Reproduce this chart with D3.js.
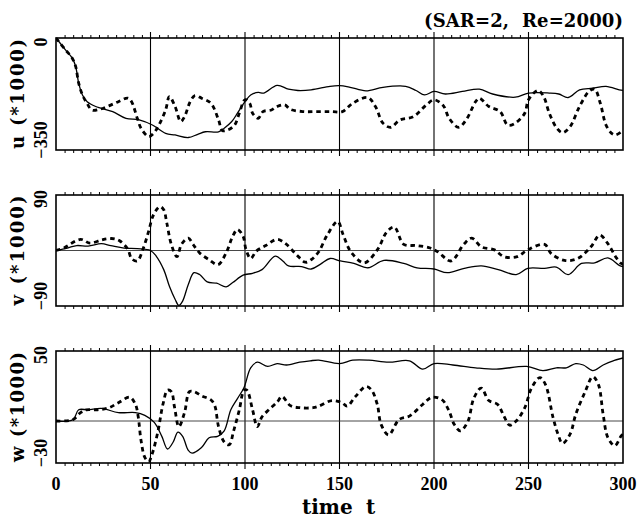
<!DOCTYPE html>
<html><head><meta charset="utf-8">
<script src="https://cdn.jsdelivr.net/npm/d3@7"></script>
<style>body{margin:0;background:#fff}svg{display:block}</style>
</head><body>
<svg id="chart" width="638" height="520"></svg>
<script>
// ---------- data ----------
const titleText = "(SAR=2,  Re=2000)";
const xLabelWords = ["time", "t"];
const timeTicks = [0, 50, 100, 150, 200, 250, 300];
const panelNames = ["u (*1000)", "v (*1000)", "w (*1000)"];
const uDomain = [-350, 0];
const vDomain = [-90, 90];
const wDomain = [-30, 50];
const uTickLabels = ["0", "−350"];
const vTickLabels = ["90", "−90"];
const wTickLabels = ["50", "−30"];

const uSolid = [[0,0],[5,-37],[8.6,-63],[10.4,-89],[12,-141],[14,-178],[16.5,-199],[21,-214],[30,-230],[37,-251],[44,-256],[51,-272],[58,-298],[63,-303],[70,-311],[75,-301],[79,-293],[86,-293],[89,-282],[93,-261],[96,-235],[100,-199],[103,-178],[107,-170],[110,-172],[117,-148],[123,-160],[128,-164],[135,-162],[145,-151],[150,-149],[155.6,-154],[164,-165],[173,-154],[185,-151],[190.5,-164],[195,-178],[200,-167],[206,-175],[215,-167],[224,-160],[231,-175],[243,-185],[250,-172],[261,-172],[266,-175],[271,-186],[277,-162],[284,-157],[291,-151],[298,-162],[300,-164]];
const uDashed = [[0,0],[5,-37],[8.6,-63],[10.4,-89],[12,-141],[14,-178],[16.5,-205],[19,-225],[23,-223],[28,-212],[33,-199],[38,-188],[40,-199],[43,-251],[45,-282],[49,-308],[51.6,-298],[54,-277],[58,-225],[60,-183],[63,-214],[66,-261],[68,-246],[71,-199],[73.5,-180],[77,-188],[82,-204],[86,-256],[88,-289],[91,-287],[94.5,-272],[97,-235],[100,-193],[102.5,-204],[104,-235],[107,-251],[109.5,-230],[114,-225],[117,-214],[121,-209],[124,-223],[131,-230],[138,-230],[146,-230],[151.5,-230],[157,-204],[165,-186],[169,-214],[173,-266],[177,-279],[182,-256],[189,-246],[196,-209],[200,-193],[205,-212],[208,-251],[213,-279],[217,-256],[222,-199],[224,-188],[229,-214],[235,-230],[239,-272],[243,-266],[248,-235],[250,-193],[255,-164],[258,-183],[261,-235],[265,-282],[268,-296],[272,-277],[277,-214],[282,-167],[285,-160],[288,-204],[291,-272],[294,-298],[296,-303],[300,-289]];

const vSolid = [[0,0],[6,4],[11,8],[17,7],[24,11],[29,8],[36,4],[43,3],[50,0],[53,-9],[57,-31],[60,-58],[63,-79],[65,-89],[67,-82],[70,-55],[73,-36],[76,-39],[80,-51],[85,-53],[90,-59],[93.5,-52],[99,-40],[104,-37],[109,-31],[116,-9],[120,-17],[123,-25],[130,-26],[135,-30],[140,-22],[145,-13],[150.5,-17],[157.6,-21],[165,-28],[173.5,-16],[184,-21],[191,-28],[200,-30],[207,-36],[216,-29],[225,-25],[234,-31],[243.5,-39],[249.6,-29],[258.5,-29],[264.7,-27],[271,-39],[278,-21],[285,-20],[292,-12],[298,-24],[300,-26]];
const vDashed = [[0,0],[4,4],[13,18],[18,12],[24,17],[27,19],[31,19],[34,15],[38,2],[40,-13],[43,-17],[46,2],[49,31],[51.6,58],[55,71],[57,66],[58.6,45],[61,10],[64,-10],[66.4,10],[70,20],[72.5,10],[76,-4],[81,-15],[85.7,-23],[90,-4],[93.5,23],[96,34],[99,23],[100.5,2],[103,-13],[106,-1],[111,8],[117,18],[121.5,11],[127,-6],[132,-19],[135,-15],[139,-2],[143.5,25],[149,47],[152,25],[156,-2],[163,-20],[170,1],[175,30],[179,38],[184,10],[191,8],[198,4],[202,-2],[209,-17],[216,11],[220,20],[225,6],[232,1],[237,-10],[244,-10],[249.6,1],[258.5,10],[262,-5],[269,-16],[276,-13],[283,6],[287.7,25],[292,11],[296.5,-12],[299,-21],[300,-22]];

const wSolid = [[0,0],[9,1],[12,8],[17,8],[24,9],[33,6],[42,6],[47,4],[52,-1],[56,-11],[59,-20],[62,-15],[64.5,-8],[67,-11],[70,-21],[72,-23],[77,-19],[81,-12],[85.5,-11],[89,-7],[92.5,8],[96,16],[99.5,24],[103,38],[106.5,42],[112,39],[117,41],[122,40],[129,42],[134.5,43],[139,43.5],[150,41],[157,43.5],[165.5,43.5],[176,42],[187,43],[194,37],[200,41],[210,40],[222,38],[233,37],[249,39],[257.6,36],[264.7,38],[270,38],[275,41],[279,40],[284,36],[289.5,40],[294.8,43],[300,45]];
const wDashed = [[0,0],[9,1],[13,6],[16,8],[22,8],[28,9.5],[33,13],[39,17],[42,12],[43.5,3],[45,-14],[47,-26],[49,-29],[51,-23],[54,-7],[56.6,12],[59,22],[61,21],[62.7,10],[65,-4],[68,6],[70.6,21],[73,21],[77,18],[82,15],[84,11],[86,-4],[89,-15],[91.6,-17],[94,-7],[97,8],[99.5,22],[101,22],[104,8],[106.5,-4],[109,3],[112.6,8],[117,13.5],[119.6,17.5],[124,11],[129,9.5],[136,9.5],[139,10.6],[146,14.6],[151.4,13],[154,10.6],[158.5,17.6],[164,24.7],[167,22],[170,11.8],[172,-2.4],[176,-10],[181.5,1],[187,3.5],[194,11.8],[199,17],[204.4,15],[208,7],[210.7,-2.4],[214,-7],[218,0],[221,16],[225,23.5],[229,14.6],[233.7,11.8],[237,3.5],[240,-3],[243.5,0],[248,9.4],[251.6,23.5],[256,31],[259,26],[263,2.4],[265.6,-9.4],[268,-16],[272,-9.4],[275,4.7],[280,21],[284,31.7],[287,26],[289.5,4.7],[292,-11.8],[295.7,-17.6],[299,-10.6],[300,-9.4]];

// ---------- layout ----------
const svg = d3.select("#chart");
const left = 56, right = 623;
const x = d3.scaleLinear().domain([0, 300]).range([left, right]);
const NUMFONT = "'Liberation Serif', 'Times New Roman', serif";
const TXTFONT = "'DejaVu Serif', serif";

const panels = [
  {name: panelNames[0], domain: uDomain, top: 38, bottom: 150, solid: uSolid, dashed: uDashed, ticks: uTickLabels, zero: false},
  {name: panelNames[1], domain: vDomain, top: 195, bottom: 306, solid: vSolid, dashed: vDashed, ticks: vTickLabels, zero: true},
  {name: panelNames[2], domain: wDomain, top: 351, bottom: 463, solid: wSolid, dashed: wDashed, ticks: wTickLabels, zero: true}
];

const minorTicks = [];
for (let s = 0; s < 300; s += 50) {
  for (let k = 1; k <= 10; k++) minorTicks.push(s + k * 50 / 11);
}

panels.forEach((p, i) => {
  const y = d3.scaleLinear().domain(p.domain).range([p.bottom, p.top]);
  const g = svg.append("g");
  const clipId = "clip" + i;
  svg.append("clipPath").attr("id", clipId).append("rect")
    .attr("x", left).attr("y", p.top - 1).attr("width", right - left).attr("height", p.bottom - p.top + 2);

  g.append("g").call(d3.axisTop(x).tickValues(minorTicks).tickSize(3).tickFormat(""))
    .attr("transform", `translate(0,${p.top})`)
    .call(a => a.select(".domain").remove())
    .selectAll("line").attr("stroke", "#000").attr("stroke-width", 1);
  g.append("g").call(d3.axisBottom(x).tickValues(minorTicks).tickSize(3).tickFormat(""))
    .attr("transform", `translate(0,${p.bottom})`)
    .call(a => a.select(".domain").remove())
    .selectAll("line").attr("stroke", "#000").attr("stroke-width", 1);

  g.selectAll(".grid").data(timeTicks.slice(1, -1)).enter().append("line")
    .attr("x1", d => x(d)).attr("x2", d => x(d))
    .attr("y1", p.top - 6).attr("y2", p.bottom + 6)
    .attr("stroke", "#000").attr("stroke-width", 1.1);

  if (p.zero) {
    g.append("line").attr("x1", left).attr("x2", right)
      .attr("y1", y(0)).attr("y2", y(0))
      .attr("stroke", "#333").attr("stroke-width", 0.9);
  }

  g.append("rect").attr("x", left).attr("y", p.top)
    .attr("width", right - left).attr("height", p.bottom - p.top)
    .attr("fill", "none").attr("stroke", "#000").attr("stroke-width", 1.6);

  const line = d3.line().x(d => x(d[0])).y(d => y(d[1])).curve(d3.curveCatmullRom.alpha(0.5));
  g.append("path").datum(p.solid).attr("d", line)
    .attr("clip-path", `url(#${clipId})`)
    .attr("fill", "none").attr("stroke", "#000").attr("stroke-width", 1.3);
  g.append("path").datum(p.dashed).attr("d", line)
    .attr("clip-path", `url(#${clipId})`)
    .attr("fill", "none").attr("stroke", "#000").attr("stroke-width", 2.8)
    .attr("stroke-dasharray", "4.5,3.8");

  const tickPos = [[p.domain[1], 4], [p.domain[0], -10]];
  tickPos.forEach((tp, j) => {
    const yy = y(tp[0]) + tp[1];
    g.append("text").text(p.ticks[j])
      .attr("transform", `translate(47,${yy}) rotate(-90)`)
      .attr("text-anchor", "middle")
      .attr("font-family", NUMFONT).attr("font-weight", "bold").attr("font-size", 18);
  });

  g.append("text").text(p.name)
    .attr("transform", `translate(24,${(p.top + p.bottom) / 2}) rotate(-90)`)
    .attr("text-anchor", "middle")
    .attr("textLength", 110).attr("lengthAdjust", "spacing")
    .attr("font-family", TXTFONT).attr("font-weight", "bold").attr("font-size", 18);
});

svg.append("g").selectAll("text").data(timeTicks).enter().append("text")
  .attr("x", d => x(d)).attr("y", 490)
  .attr("text-anchor", "middle")
  .attr("font-family", NUMFONT).attr("font-weight", "bold").attr("font-size", 18)
  .text(d => d);

const xl = svg.append("text").attr("y", 514)
  .attr("font-family", TXTFONT).attr("font-weight", "bold").attr("font-size", 20);
xl.append("tspan").attr("x", 302).text(xLabelWords[0]);
xl.append("tspan").attr("x", 366).text(xLabelWords[1]);

svg.append("text").text(titleText)
  .style("white-space", "pre")
  .attr("x", 623).attr("y", 27).attr("text-anchor", "end")
  .attr("textLength", 199).attr("lengthAdjust", "spacing")
  .attr("font-family", TXTFONT).attr("font-weight", "bold").attr("font-size", 18);
</script>
</body></html>
